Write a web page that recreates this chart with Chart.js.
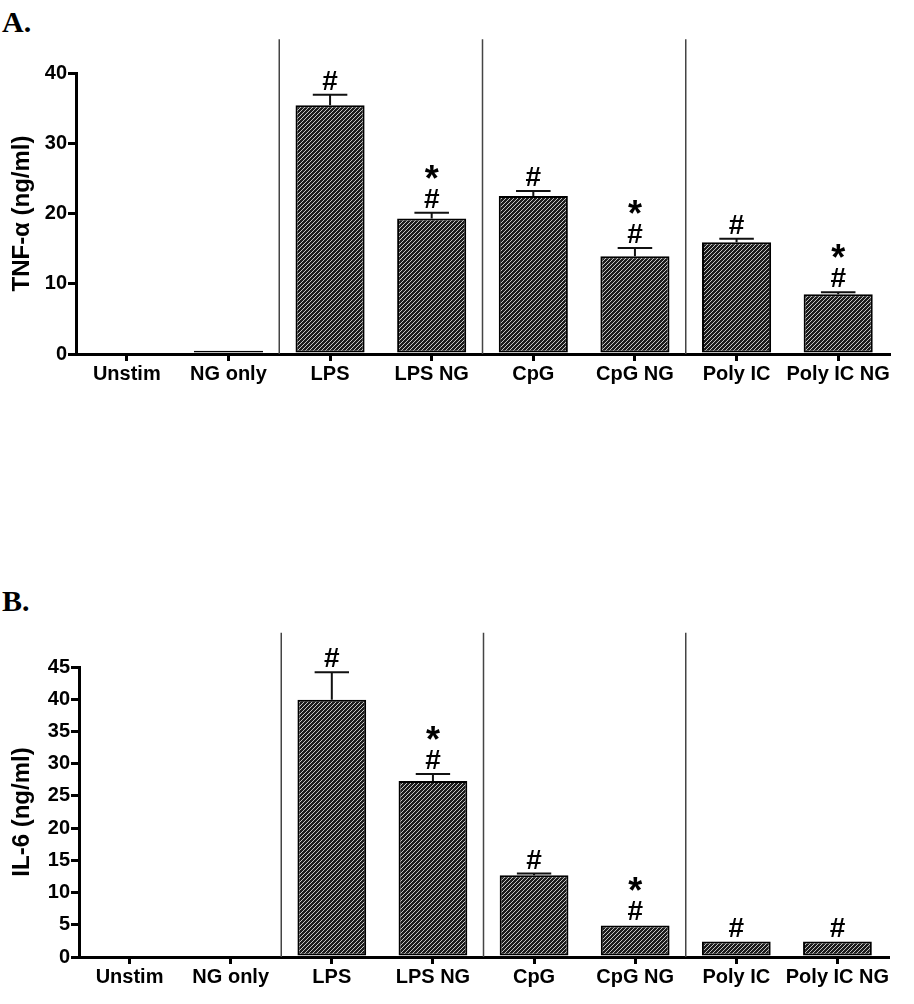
<!DOCTYPE html>
<html>
<head>
<meta charset="utf-8">
<script src="https://cdn.jsdelivr.net/npm/chart.js@4"></script>
<style>
body { margin:0; background:#fff; width:914px; height:1004px; position:relative; overflow:hidden; }
.painel { position:absolute; left:2px; font-family:"Liberation Serif","Times New Roman",serif; font-weight:bold; font-size:30px; color:#000; }
#caixaA { position:absolute; left:0; top:0; width:914px; height:400px; }
#caixaB { position:absolute; left:0; top:590px; width:914px; height:414px; }
</style>
</head>
<body>
<div class="painel" style="top:5px">A.</div>
<div class="painel" style="top:584px">B.</div>
<div id="caixaA"><canvas id="grafA"></canvas></div>
<div id="caixaB"><canvas id="grafB"></canvas></div>
<script>
// Dados
const categorias = ['Unstim', 'NG only', 'LPS', 'LPS NG', 'CpG', 'CpG NG', 'Poly IC', 'Poly IC NG'];

const tnfMedia = [0, 0.45, 35.4, 19.3, 22.5, 13.9, 15.9, 8.5];
const tnfErro  = [0, 0, 1.5, 0.8, 0.7, 1.2, 0.5, 0.3];
const tnfMarca = ['', '', '#', '*#', '#', '*#', '#', '*#'];

const il6Media = [0, 0, 39.9, 27.3, 12.7, 4.9, 2.4, 2.4];
const il6Erro  = [0, 0, 4.3, 1.1, 0.25, 0, 0, 0];
const il6Marca = ['', '', '#', '*#', '#', '*#', '#', '#'];

// separadores entre grupos (depois dos índices)
const divisoes = [1, 3, 5];

const fonte = '"Liberation Sans", Arial, sans-serif';

// Hachura diagonal das barras
function criarHachura() {
    const c = document.createElement('canvas');
    c.width = 4; c.height = 4;
    const g = c.getContext('2d');
    g.fillStyle = '#1c1c1c';
    g.fillRect(0, 0, 4, 4);
    g.strokeStyle = '#d8d8d8';
    g.lineWidth = 0.9;
    [[-1, 1, 1, -1], [0, 4, 4, 0], [3, 5, 5, 3]].forEach(l => {
        g.beginPath(); g.moveTo(l[0], l[1]); g.lineTo(l[2], l[3]); g.stroke();
    });
    return g.createPattern(c, 'repeat');
}

const extras = {
    id: 'extras',
    afterDatasetsDraw(chart, args, opts) {
        const { ctx, scales: { x, y } } = chart;
        const meta = chart.getDatasetMeta(0);
        const valores = chart.data.datasets[0].data;
        ctx.save();
        // linhas separadoras
        ctx.strokeStyle = '#444';
        ctx.lineWidth = 1.5;
        divisoes.forEach(i => {
            const px = (x.getPixelForValue(i) + x.getPixelForValue(i + 1)) / 2;
            ctx.beginPath();
            ctx.moveTo(px, y.getPixelForValue(0));
            ctx.lineTo(px, y.getPixelForValue(opts.sepTopo));
            ctx.stroke();
        });
        // barras de erro e marcas
        meta.data.forEach((bar, i) => {
            const topo = y.getPixelForValue(valores[i] + opts.erros[i]);
            if (opts.erros[i] > 0) {
                const meia = bar.width / 4;
                ctx.strokeStyle = '#111';
                ctx.lineWidth = 2;
                ctx.beginPath();
                ctx.moveTo(bar.x, bar.y);
                ctx.lineTo(bar.x, topo);
                ctx.moveTo(bar.x - meia, topo);
                ctx.lineTo(bar.x + meia, topo);
                ctx.stroke();
            }
            const m = opts.marcas[i];
            ctx.fillStyle = '#000';
            ctx.textAlign = 'center';
            ctx.textBaseline = 'alphabetic';
            if (m.includes('#')) {
                ctx.font = 'bold 28px ' + fonte;
                ctx.fillText('#', bar.x, topo - 5);
            }
            if (m.includes('*')) {
                ctx.font = 'bold 36px ' + fonte;
                ctx.fillText('*', bar.x, topo - 22);
            }
        });
        ctx.restore();
    }
};

function montarGrafico(id, medias, erros, marcas, cfg) {
    return new Chart(document.getElementById(id), {
        type: 'bar',
        data: {
            labels: categorias,
            datasets: [{
                data: medias,
                backgroundColor: criarHachura(),
                borderColor: '#000',
                borderWidth: 2,
                borderSkipped: false,
                barPercentage: 0.68,
                categoryPercentage: 1
            }]
        },
        options: {
            responsive: true,
            maintainAspectRatio: false,
            animation: false,
            layout: { padding: { top: cfg.topo, right: cfg.direita, left: 0, bottom: 0 } },
            plugins: {
                legend: { display: false },
                tooltip: { enabled: false },
                extras: { erros: erros, marcas: marcas, sepTopo: cfg.sepTopo }
            },
            scales: {
                x: {
                    grid: { offset: false, drawOnChartArea: false, tickLength: 7, lineWidth: 3, color: '#000' },
                    border: { width: 3, color: '#000' },
                    ticks: { color: '#000', font: { family: fonte, size: 20, weight: 'bold' }, padding: 1, maxRotation: 0, autoSkip: false },
                    afterFit: s => { s.height = cfg.alturaX; }
                },
                y: {
                    min: 0,
                    max: cfg.max,
                    ticks: { stepSize: cfg.passo, color: '#000', font: { family: fonte, size: 20, weight: 'bold' }, padding: 1 },
                    grid: { drawOnChartArea: false, tickLength: 8, lineWidth: 3, color: '#000' },
                    border: { width: 3, color: '#000' },
                    title: { display: true, text: cfg.titulo, color: '#000', font: { family: fonte, size: 24, weight: 'bold' }, padding: { top: 8 } },
                    afterFit: s => { s.width = cfg.larguraY; }
                }
            }
        },
        plugins: [extras]
    });
}

montarGrafico('grafA', tnfMedia, tnfErro, tnfMarca, {
    max: 40, passo: 10, titulo: 'TNF-α (ng/ml)', sepTopo: 44.8,
    topo: 73, direita: 25, larguraY: 76, alturaX: 46
});
montarGrafico('grafB', il6Media, il6Erro, il6Marca, {
    max: 45, passo: 5, titulo: 'IL-6 (ng/ml)', sepTopo: 50.3,
    topo: 77, direita: 26, larguraY: 79, alturaX: 47
});
</script>
</body>
</html>
